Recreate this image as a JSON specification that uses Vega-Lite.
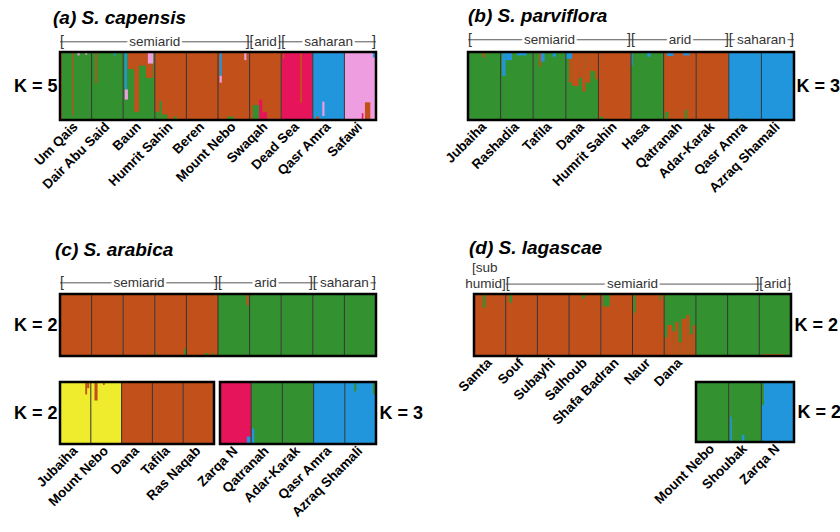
{
"$schema": "https://vega.github.io/schema/vega-lite/v6.json",
"background": "white",
"padding": {"left": 13, "top": 6, "right": 2, "bottom": 2},
"config": {
  "view": {"stroke": null},
  "font": "Liberation Sans",
  "axis": {"domain": false, "ticks": false, "grid": false, "labelColor": "black", "titleColor": "black", "labelFont": "Liberation Sans", "titleFont": "Liberation Sans"},
  "axisY": {"labels": false, "titleAngle": 0, "titleBaseline": "middle", "titleFontSize": 18, "titleFontWeight": "bold", "titlePadding": 3},
  "title": {"anchor": "start", "frame": "group", "fontSize": 19, "fontWeight": "bold", "fontStyle": "italic", "color": "black", "font": "Liberation Sans"},
  "text": {"font": "Liberation Sans"}
},
"datasets": {
  "A": [
    {"x0":0,"x1":1,"y0":0,"y1":1,"k":"g"},{"x0":1,"x1":2,"y0":0,"y1":1,"k":"g"},{"x0":2,"x1":3,"y0":0,"y1":1,"k":"g"},
    {"x0":3,"x1":4,"y0":0,"y1":1,"k":"o"},{"x0":4,"x1":5,"y0":0,"y1":1,"k":"o"},{"x0":5,"x1":6,"y0":0,"y1":1,"k":"o"},
    {"x0":6,"x1":7,"y0":0,"y1":1,"k":"o"},{"x0":7,"x1":8,"y0":0,"y1":1,"k":"r"},{"x0":8,"x1":9,"y0":0,"y1":1,"k":"b"},
    {"x0":9,"x1":10,"y0":0,"y1":1,"k":"p"},
    {"x0":0,"x1":0.06,"y0":0,"y1":1,"k":"o"},
    {"x0":0.38,"x1":0.42,"y0":0.07,"y1":1,"k":"o"},
    {"x0":0.55,"x1":0.62,"y0":0.95,"y1":1,"k":"p"},
    {"x0":0.8,"x1":0.86,"y0":0.96,"y1":1,"k":"p"},
    {"x0":1.12,"x1":1.17,"y0":0.54,"y1":1,"k":"o"},
    {"x0":1.7,"x1":1.76,"y0":0.95,"y1":1,"k":"b"},
    {"x0":2.05,"x1":2.12,"y0":0.45,"y1":1,"k":"b"},
    {"x0":2.05,"x1":2.15,"y0":0.3,"y1":0.45,"k":"p"},
    {"x0":2.15,"x1":2.35,"y0":0.75,"y1":1,"k":"o"},
    {"x0":2.35,"x1":2.5,"y0":0.12,"y1":1,"k":"o"},
    {"x0":2.5,"x1":2.72,"y0":0.8,"y1":1,"k":"o"},
    {"x0":2.72,"x1":2.95,"y0":0.62,"y1":1,"k":"o"},
    {"x0":2.78,"x1":2.95,"y0":0.83,"y1":1,"k":"p"},
    {"x0":3.0,"x1":3.15,"y0":0,"y1":0.12,"k":"g"},
    {"x0":3.15,"x1":3.22,"y0":0,"y1":0.28,"k":"g"},
    {"x0":3.22,"x1":3.4,"y0":0,"y1":0.08,"k":"g"},
    {"x0":3.6,"x1":3.7,"y0":0,"y1":0.05,"k":"g"},
    {"x0":5.05,"x1":5.12,"y0":0.65,"y1":1,"k":"b"},
    {"x0":5.05,"x1":5.12,"y0":0.55,"y1":0.65,"k":"p"},
    {"x0":5.83,"x1":5.9,"y0":0.88,"y1":1,"k":"p"},
    {"x0":5.3,"x1":5.5,"y0":0,"y1":0.05,"k":"g"},
    {"x0":6.1,"x1":6.3,"y0":0,"y1":0.22,"k":"g"},
    {"x0":6.3,"x1":6.4,"y0":0,"y1":0.3,"k":"r"},
    {"x0":6.4,"x1":6.55,"y0":0,"y1":0.12,"k":"r"},
    {"x0":7.6,"x1":7.66,"y0":0.25,"y1":1,"k":"o"},
    {"x0":7.05,"x1":7.1,"y0":0.9,"y1":1,"k":"o"},
    {"x0":8.3,"x1":8.37,"y0":0.06,"y1":0.27,"k":"p"},
    {"x0":8.1,"x1":8.2,"y0":0,"y1":0.05,"k":"o"},
    {"x0":9.65,"x1":9.82,"y0":0,"y1":0.26,"k":"o"},
    {"x0":9.55,"x1":9.6,"y0":0,"y1":0.1,"k":"r"},
    {"x0":9.9,"x1":9.97,"y0":0.92,"y1":1,"k":"b"}
  ],
  "B": [
    {"x0":0,"x1":1,"y0":0,"y1":1,"k":"g"},{"x0":1,"x1":2,"y0":0,"y1":1,"k":"g"},{"x0":2,"x1":3,"y0":0,"y1":1,"k":"g"},
    {"x0":3,"x1":4,"y0":0,"y1":1,"k":"g"},{"x0":4,"x1":5,"y0":0,"y1":1,"k":"o"},{"x0":5,"x1":6,"y0":0,"y1":1,"k":"g"},
    {"x0":6,"x1":7,"y0":0,"y1":1,"k":"o"},{"x0":7,"x1":8,"y0":0,"y1":1,"k":"o"},{"x0":8,"x1":9,"y0":0,"y1":1,"k":"b"},
    {"x0":9,"x1":10,"y0":0,"y1":1,"k":"b"},
    {"x0":0.45,"x1":0.52,"y0":0.92,"y1":1,"k":"o"},
    {"x0":1.05,"x1":1.15,"y0":0.65,"y1":1,"k":"b"},
    {"x0":1.15,"x1":1.35,"y0":0.88,"y1":1,"k":"b"},
    {"x0":1.5,"x1":1.8,"y0":0.95,"y1":1,"k":"b"},
    {"x0":2.18,"x1":2.24,"y0":0.78,"y1":1,"k":"o"},
    {"x0":2.24,"x1":2.35,"y0":0.86,"y1":1,"k":"b"},
    {"x0":2.6,"x1":2.7,"y0":0.93,"y1":1,"k":"b"},
    {"x0":3.1,"x1":3.2,"y0":0.55,"y1":0.9,"k":"o"},
    {"x0":3.02,"x1":3.2,"y0":0.9,"y1":1,"k":"b"},
    {"x0":3.2,"x1":3.4,"y0":0.5,"y1":1,"k":"o"},
    {"x0":3.4,"x1":3.5,"y0":0.62,"y1":1,"k":"o"},
    {"x0":3.5,"x1":3.6,"y0":0.42,"y1":1,"k":"o"},
    {"x0":3.6,"x1":3.75,"y0":0.55,"y1":1,"k":"o"},
    {"x0":3.75,"x1":3.9,"y0":0.72,"y1":1,"k":"o"},
    {"x0":3.9,"x1":4.0,"y0":0.6,"y1":1,"k":"o"},
    {"x0":4.05,"x1":4.15,"y0":0,"y1":0.05,"k":"g"},
    {"x0":5.0,"x1":5.05,"y0":0.8,"y1":1,"k":"b"},
    {"x0":5.5,"x1":5.6,"y0":0.93,"y1":1,"k":"b"},
    {"x0":6.05,"x1":6.15,"y0":0,"y1":0.12,"k":"g"},
    {"x0":6.65,"x1":6.72,"y0":0,"y1":0.15,"k":"g"},
    {"x0":6.1,"x1":6.3,"y0":0.94,"y1":1,"k":"b"},
    {"x0":6.6,"x1":6.8,"y0":0.95,"y1":1,"k":"b"},
    {"x0":8.2,"x1":8.3,"y0":0,"y1":0.03,"k":"g"}
  ],
  "C": [
    {"x0":0,"x1":1,"y0":0,"y1":1,"k":"o"},{"x0":1,"x1":2,"y0":0,"y1":1,"k":"o"},{"x0":2,"x1":3,"y0":0,"y1":1,"k":"o"},
    {"x0":3,"x1":4,"y0":0,"y1":1,"k":"o"},{"x0":4,"x1":5,"y0":0,"y1":1,"k":"o"},{"x0":5,"x1":6,"y0":0,"y1":1,"k":"g"},
    {"x0":6,"x1":7,"y0":0,"y1":1,"k":"g"},{"x0":7,"x1":8,"y0":0,"y1":1,"k":"g"},{"x0":8,"x1":9,"y0":0,"y1":1,"k":"g"},
    {"x0":9,"x1":10,"y0":0,"y1":1,"k":"g"},
    {"x0":5.9,"x1":5.97,"y0":0.82,"y1":1,"k":"o"},
    {"x0":3.0,"x1":3.06,"y0":0,"y1":0.05,"k":"g"},
    {"x0":3.93,"x1":4.02,"y0":0,"y1":0.12,"k":"g"},
    {"x0":4.6,"x1":4.7,"y0":0,"y1":0.05,"k":"g"},
    {"x0":4.82,"x1":4.88,"y0":0,"y1":0.05,"k":"g"}
  ],
  "CL": [
    {"x0":0,"x1":1,"y0":0,"y1":1,"k":"y"},{"x0":1,"x1":2,"y0":0,"y1":1,"k":"y"},{"x0":2,"x1":3,"y0":0,"y1":1,"k":"o"},
    {"x0":3,"x1":4,"y0":0,"y1":1,"k":"o"},{"x0":4,"x1":5,"y0":0,"y1":1,"k":"o"},
    {"x0":0.82,"x1":0.88,"y0":0.8,"y1":1,"k":"o"},
    {"x0":0.88,"x1":0.95,"y0":0.9,"y1":1,"k":"o"},
    {"x0":1.12,"x1":1.22,"y0":0.7,"y1":1,"k":"o"},
    {"x0":1.4,"x1":1.45,"y0":0.95,"y1":1,"k":"o"}
  ],
  "CR": [
    {"x0":0,"x1":1,"y0":0,"y1":1,"k":"r"},{"x0":1,"x1":2,"y0":0,"y1":1,"k":"g"},{"x0":2,"x1":3,"y0":0,"y1":1,"k":"g"},
    {"x0":3,"x1":4,"y0":0,"y1":1,"k":"b"},{"x0":4,"x1":5,"y0":0,"y1":1,"k":"b"},
    {"x0":0.86,"x1":0.98,"y0":0,"y1":0.12,"k":"b"},
    {"x0":1.02,"x1":1.1,"y0":0,"y1":0.25,"k":"b"},
    {"x0":4.3,"x1":4.37,"y0":0.85,"y1":1,"k":"g"},
    {"x0":4.9,"x1":4.97,"y0":0.8,"y1":1,"k":"g"}
  ],
  "D": [
    {"x0":0,"x1":1,"y0":0,"y1":1,"k":"o"},{"x0":1,"x1":2,"y0":0,"y1":1,"k":"o"},{"x0":2,"x1":3,"y0":0,"y1":1,"k":"o"},
    {"x0":3,"x1":4,"y0":0,"y1":1,"k":"o"},{"x0":4,"x1":5,"y0":0,"y1":1,"k":"o"},{"x0":5,"x1":6,"y0":0,"y1":1,"k":"o"},
    {"x0":6,"x1":7,"y0":0,"y1":1,"k":"g"},{"x0":7,"x1":8,"y0":0,"y1":1,"k":"g"},{"x0":8,"x1":9,"y0":0,"y1":1,"k":"g"},
    {"x0":9,"x1":10,"y0":0,"y1":1,"k":"g"},
    {"x0":0.28,"x1":0.36,"y0":0.78,"y1":1,"k":"g"},
    {"x0":1.12,"x1":1.2,"y0":0.86,"y1":1,"k":"g"},
    {"x0":3.4,"x1":3.5,"y0":0.93,"y1":1,"k":"g"},
    {"x0":4.07,"x1":4.28,"y0":0.8,"y1":1,"k":"g"},
    {"x0":5.03,"x1":5.1,"y0":0.7,"y1":1,"k":"g"},
    {"x0":5.85,"x1":5.9,"y0":0.9,"y1":1,"k":"g"},
    {"x0":6.0,"x1":6.1,"y0":0,"y1":0.3,"k":"o"},
    {"x0":6.1,"x1":6.25,"y0":0,"y1":0.5,"k":"o"},
    {"x0":6.25,"x1":6.35,"y0":0,"y1":0.4,"k":"o"},
    {"x0":6.35,"x1":6.45,"y0":0,"y1":0.55,"k":"o"},
    {"x0":6.45,"x1":6.55,"y0":0,"y1":0.22,"k":"o"},
    {"x0":6.55,"x1":6.7,"y0":0,"y1":0.6,"k":"o"},
    {"x0":6.7,"x1":6.8,"y0":0,"y1":0.66,"k":"o"},
    {"x0":6.8,"x1":6.9,"y0":0,"y1":0.35,"k":"o"},
    {"x0":6.9,"x1":7.0,"y0":0,"y1":0.5,"k":"o"},
    {"x0":9.1,"x1":9.8,"y0":0,"y1":0.03,"k":"o"}
  ],
  "DB": [
    {"x0":0,"x1":1,"y0":0,"y1":1,"k":"g"},{"x0":1,"x1":2,"y0":0,"y1":1,"k":"g"},{"x0":2,"x1":3,"y0":0,"y1":1,"k":"b"},
    {"x0":1.05,"x1":1.1,"y0":0,"y1":0.42,"k":"b"},
    {"x0":1.4,"x1":1.48,"y0":0,"y1":0.12,"k":"b"},
    {"x0":2.0,"x1":2.08,"y0":0.62,"y1":1,"k":"g"}
  ],
  "LA": [{"i":0,"n":"Um Qais"},{"i":1,"n":"Dair Abu Said"},{"i":2,"n":"Baun"},{"i":3,"n":"Humrit Sahin"},{"i":4,"n":"Beren"},{"i":5,"n":"Mount Nebo"},{"i":6,"n":"Swaqah"},{"i":7,"n":"Dead Sea"},{"i":8,"n":"Qasr Amra"},{"i":9,"n":"Safawi"}],
  "LB": [{"i":0,"n":"Jubaiha"},{"i":1,"n":"Rashadia"},{"i":2,"n":"Tafila"},{"i":3,"n":"Dana"},{"i":4,"n":"Humrit Sahin"},{"i":5,"n":"Hasa"},{"i":6,"n":"Qatranah"},{"i":7,"n":"Adar-Karak"},{"i":8,"n":"Qasr Amra"},{"i":9,"n":"Azraq Shamali"}],
  "LCL": [{"i":0,"n":"Jubaiha"},{"i":1,"n":"Mount Nebo"},{"i":2,"n":"Dana"},{"i":3,"n":"Tafila"},{"i":4,"n":"Ras Naqab"}],
  "LCR": [{"i":0,"n":"Zarqa N"},{"i":1,"n":"Qatranah"},{"i":2,"n":"Adar-Karak"},{"i":3,"n":"Qasr Amra"},{"i":4,"n":"Azraq Shamali"}],
  "LD": [{"i":0,"n":"Samta"},{"i":1,"n":"Souf"},{"i":2,"n":"Subayhi"},{"i":3,"n":"Salhoub"},{"i":4,"n":"Shafa Badran"},{"i":5,"n":"Naur"},{"i":6,"n":"Dana"}],
  "LDB": [{"i":0,"n":"Mount Nebo"},{"i":1,"n":"Shoubak"},{"i":2,"n":"Zarqa N"}],
  "RA": [{"n":"semiarid","f":0,"t":6},{"n":"arid","f":6,"t":7},{"n":"saharan","f":7,"t":10}],
  "RB": [{"n":"semiarid","f":0,"t":5},{"n":"arid","f":5,"t":8},{"n":"saharan","f":8,"t":10}],
  "RD": [{"n":"semiarid","f":1,"t":9},{"n":"arid","f":9,"t":10}],
  "D10": [{"d":1},{"d":2},{"d":3},{"d":4},{"d":5},{"d":6},{"d":7},{"d":8},{"d":9}],
  "D5": [{"d":1},{"d":2},{"d":3},{"d":4}],
  "D3": [{"d":1},{"d":2}],
  "ONE": [{}]
},
"bounds": "flush",
"spacing": 242,
"vconcat": [
 {"hconcat": [
  {"width": 316, "height": 68,
   "title": {"text": "(a)  S. capensis", "dx": -7, "offset": 7},
   "layer": [
    {"data": {"name": "A"}, "mark": "rect", "encoding": {
      "x": {"field": "x0", "type": "quantitative", "scale": {"domain": [0, 10], "nice": false, "zero": false}, "axis": null},
      "x2": {"field": "x1"},
      "y": {"field": "y0", "type": "quantitative", "scale": {"domain": [0, 1], "nice": false}, "axis": {"title": "K = 5", "orient": "left", "titleAlign": "right"}},
      "y2": {"field": "y1"},
      "color": {"field": "k", "type": "nominal", "legend": null, "scale": {"domain": ["g","o","r","b","p","y"], "range": ["#33922f","#c2501a","#e6145a","#2196dc","#ee9ee0","#eeec2c"]}}}},
    {"data": {"name": "D10"}, "mark": {"type": "rule", "color": "#333", "strokeWidth": 1}, "encoding": {"x": {"field": "d", "type": "quantitative"}}},
    {"data": {"name": "ONE"}, "mark": {"type": "rect", "filled": false, "stroke": "black", "strokeWidth": 2.5}, "encoding": {"x": {"datum": 0}, "x2": {"datum": 10}, "y": {"datum": 0}, "y2": {"datum": 1}}},
    {"data": {"name": "LA"}, "transform": [{"calculate": "datum.i+0.5", "as": "c"}], "mark": {"type": "text", "angle": 315, "align": "right", "baseline": "middle", "fontSize": 13.5, "fontWeight": "bold", "color": "black"}, "encoding": {"x": {"field": "c", "type": "quantitative"}, "y": {"datum": -0.07}, "text": {"field": "n"}}},
    {"data": {"name": "RA"}, "mark": {"type": "rule", "color": "#555", "strokeWidth": 1}, "encoding": {"x": {"field": "f", "type": "quantitative"}, "x2": {"field": "t"}, "y": {"datum": 1.15}}},
    {"data": {"name": "RA"}, "mark": {"type": "text", "text": "[", "align": "left", "baseline": "middle", "fontSize": 14, "color": "#333"}, "encoding": {"x": {"field": "f", "type": "quantitative"}, "y": {"datum": 1.15}}},
    {"data": {"name": "RA"}, "mark": {"type": "text", "text": "]", "align": "right", "baseline": "middle", "fontSize": 14, "color": "#333"}, "encoding": {"x": {"field": "t", "type": "quantitative"}, "y": {"datum": 1.15}}},
    {"data": {"name": "RA"}, "transform": [{"calculate": "(datum.f+datum.t)/2", "as": "m"}], "mark": {"type": "text", "baseline": "middle", "fontSize": 13.5, "color": "white", "stroke": "white", "strokeWidth": 5}, "encoding": {"x": {"field": "m", "type": "quantitative"}, "y": {"datum": 1.15}, "text": {"field": "n"}}},
    {"data": {"name": "RA"}, "transform": [{"calculate": "(datum.f+datum.t)/2", "as": "m"}], "mark": {"type": "text", "baseline": "middle", "fontSize": 13.5, "color": "#333"}, "encoding": {"x": {"field": "m", "type": "quantitative"}, "y": {"datum": 1.15}, "text": {"field": "n"}}}
   ]},
  {"width": 326, "height": 68,
   "title": {"text": "(b)  S. parviflora", "dx": 0, "offset": 7},
   "layer": [
    {"data": {"name": "B"}, "mark": "rect", "encoding": {
      "x": {"field": "x0", "type": "quantitative", "scale": {"domain": [0, 10], "nice": false, "zero": false}, "axis": null},
      "x2": {"field": "x1"},
      "y": {"field": "y0", "type": "quantitative", "scale": {"domain": [0, 1], "nice": false}, "axis": {"title": "K = 3", "orient": "right", "titleAlign": "left", "titlePadding": 2}},
      "y2": {"field": "y1"},
      "color": {"field": "k", "type": "nominal", "legend": null, "scale": {"domain": ["g","o","r","b","p","y"], "range": ["#33922f","#c2501a","#e6145a","#2196dc","#ee9ee0","#eeec2c"]}}}},
    {"data": {"name": "D10"}, "mark": {"type": "rule", "color": "#333", "strokeWidth": 1}, "encoding": {"x": {"field": "d", "type": "quantitative"}}},
    {"data": {"name": "ONE"}, "mark": {"type": "rect", "filled": false, "stroke": "black", "strokeWidth": 2.5}, "encoding": {"x": {"datum": 0}, "x2": {"datum": 10}, "y": {"datum": 0}, "y2": {"datum": 1}}},
    {"data": {"name": "LB"}, "transform": [{"calculate": "datum.i+0.5", "as": "c"}], "mark": {"type": "text", "angle": 315, "align": "right", "baseline": "middle", "fontSize": 13.5, "fontWeight": "bold", "color": "black"}, "encoding": {"x": {"field": "c", "type": "quantitative"}, "y": {"datum": -0.07}, "text": {"field": "n"}}},
    {"data": {"name": "RB"}, "mark": {"type": "rule", "color": "#555", "strokeWidth": 1}, "encoding": {"x": {"field": "f", "type": "quantitative"}, "x2": {"field": "t"}, "y": {"datum": 1.18}}},
    {"data": {"name": "RB"}, "mark": {"type": "text", "text": "[", "align": "left", "baseline": "middle", "fontSize": 14, "color": "#333"}, "encoding": {"x": {"field": "f", "type": "quantitative"}, "y": {"datum": 1.18}}},
    {"data": {"name": "RB"}, "mark": {"type": "text", "text": "]", "align": "right", "baseline": "middle", "fontSize": 14, "color": "#333"}, "encoding": {"x": {"field": "t", "type": "quantitative"}, "y": {"datum": 1.18}}},
    {"data": {"name": "RB"}, "transform": [{"calculate": "(datum.f+datum.t)/2", "as": "m"}], "mark": {"type": "text", "baseline": "middle", "fontSize": 13.5, "color": "white", "stroke": "white", "strokeWidth": 5}, "encoding": {"x": {"field": "m", "type": "quantitative"}, "y": {"datum": 1.18}, "text": {"field": "n"}}},
    {"data": {"name": "RB"}, "transform": [{"calculate": "(datum.f+datum.t)/2", "as": "m"}], "mark": {"type": "text", "baseline": "middle", "fontSize": 13.5, "color": "#333"}, "encoding": {"x": {"field": "m", "type": "quantitative"}, "y": {"datum": 1.18}, "text": {"field": "n"}}}
   ]}
 ], "spacing": 92, "bounds": "flush"},
 {"hconcat": [
  {"vconcat": [
    {"width": 316, "height": 62,
     "title": {"text": "(c)  S. arabica", "dx": -5, "offset": 16},
     "layer": [
      {"data": {"name": "C"}, "mark": "rect", "encoding": {
        "x": {"field": "x0", "type": "quantitative", "scale": {"domain": [0, 10], "nice": false, "zero": false}, "axis": null},
        "x2": {"field": "x1"},
        "y": {"field": "y0", "type": "quantitative", "scale": {"domain": [0, 1], "nice": false}, "axis": {"title": "K = 2", "orient": "left", "titleAlign": "right"}},
        "y2": {"field": "y1"},
        "color": {"field": "k", "type": "nominal", "legend": null, "scale": {"domain": ["g","o","r","b","p","y"], "range": ["#33922f","#c2501a","#e6145a","#2196dc","#ee9ee0","#eeec2c"]}}}},
      {"data": {"name": "D10"}, "mark": {"type": "rule", "color": "#333", "strokeWidth": 1}, "encoding": {"x": {"field": "d", "type": "quantitative"}}},
      {"data": {"name": "ONE"}, "mark": {"type": "rect", "filled": false, "stroke": "black", "strokeWidth": 2.5}, "encoding": {"x": {"datum": 0}, "x2": {"datum": 10}, "y": {"datum": 0}, "y2": {"datum": 1}}},
      {"data": {"name": "RB"}, "mark": {"type": "rule", "color": "#555", "strokeWidth": 1}, "encoding": {"x": {"field": "f", "type": "quantitative"}, "x2": {"field": "t"}, "y": {"datum": 1.18}}},
      {"data": {"name": "RB"}, "mark": {"type": "text", "text": "[", "align": "left", "baseline": "middle", "fontSize": 14, "color": "#333"}, "encoding": {"x": {"field": "f", "type": "quantitative"}, "y": {"datum": 1.18}}},
      {"data": {"name": "RB"}, "mark": {"type": "text", "text": "]", "align": "right", "baseline": "middle", "fontSize": 14, "color": "#333"}, "encoding": {"x": {"field": "t", "type": "quantitative"}, "y": {"datum": 1.18}}},
      {"data": {"name": "RB"}, "transform": [{"calculate": "(datum.f+datum.t)/2", "as": "m"}], "mark": {"type": "text", "baseline": "middle", "fontSize": 13.5, "color": "white", "stroke": "white", "strokeWidth": 5}, "encoding": {"x": {"field": "m", "type": "quantitative"}, "y": {"datum": 1.18}, "text": {"field": "n"}}},
      {"data": {"name": "RB"}, "transform": [{"calculate": "(datum.f+datum.t)/2", "as": "m"}], "mark": {"type": "text", "baseline": "middle", "fontSize": 13.5, "color": "#333"}, "encoding": {"x": {"field": "m", "type": "quantitative"}, "y": {"datum": 1.18}, "text": {"field": "n"}}}
     ]},
    {"hconcat": [
      {"width": 154, "height": 62,
       "layer": [
        {"data": {"name": "CL"}, "mark": "rect", "encoding": {
          "x": {"field": "x0", "type": "quantitative", "scale": {"domain": [0, 5], "nice": false, "zero": false}, "axis": null},
          "x2": {"field": "x1"},
          "y": {"field": "y0", "type": "quantitative", "scale": {"domain": [0, 1], "nice": false}, "axis": {"title": "K = 2", "orient": "left", "titleAlign": "right"}},
          "y2": {"field": "y1"},
          "color": {"field": "k", "type": "nominal", "legend": null, "scale": {"domain": ["g","o","r","b","p","y"], "range": ["#33922f","#c2501a","#e6145a","#2196dc","#ee9ee0","#eeec2c"]}}}},
        {"data": {"name": "D5"}, "mark": {"type": "rule", "color": "#333", "strokeWidth": 1}, "encoding": {"x": {"field": "d", "type": "quantitative"}}},
        {"data": {"name": "ONE"}, "mark": {"type": "rect", "filled": false, "stroke": "black", "strokeWidth": 2.5}, "encoding": {"x": {"datum": 0}, "x2": {"datum": 5}, "y": {"datum": 0}, "y2": {"datum": 1}}},
        {"data": {"name": "LCL"}, "transform": [{"calculate": "datum.i+0.5", "as": "c"}], "mark": {"type": "text", "angle": 315, "align": "right", "baseline": "middle", "fontSize": 13.5, "fontWeight": "bold", "color": "black"}, "encoding": {"x": {"field": "c", "type": "quantitative"}, "y": {"datum": -0.08}, "text": {"field": "n"}}}
       ]},
      {"width": 156, "height": 62,
       "layer": [
        {"data": {"name": "CR"}, "mark": "rect", "encoding": {
          "x": {"field": "x0", "type": "quantitative", "scale": {"domain": [0, 5], "nice": false, "zero": false}, "axis": null},
          "x2": {"field": "x1"},
          "y": {"field": "y0", "type": "quantitative", "scale": {"domain": [0, 1], "nice": false}, "axis": {"title": "K = 3", "orient": "right", "titleAlign": "left"}},
          "y2": {"field": "y1"},
          "color": {"field": "k", "type": "nominal", "legend": null, "scale": {"domain": ["g","o","r","b","p","y"], "range": ["#33922f","#c2501a","#e6145a","#2196dc","#ee9ee0","#eeec2c"]}}}},
        {"data": {"name": "D5"}, "mark": {"type": "rule", "color": "#333", "strokeWidth": 1}, "encoding": {"x": {"field": "d", "type": "quantitative"}}},
        {"data": {"name": "ONE"}, "mark": {"type": "rect", "filled": false, "stroke": "black", "strokeWidth": 2.5}, "encoding": {"x": {"datum": 0}, "x2": {"datum": 5}, "y": {"datum": 0}, "y2": {"datum": 1}}},
        {"data": {"name": "LCR"}, "transform": [{"calculate": "datum.i+0.5", "as": "c"}], "mark": {"type": "text", "angle": 315, "align": "right", "baseline": "middle", "fontSize": 13.5, "fontWeight": "bold", "color": "black"}, "encoding": {"x": {"field": "c", "type": "quantitative"}, "y": {"datum": -0.08}, "text": {"field": "n"}}}
       ]}
    ], "spacing": 6, "bounds": "flush"}
  ], "spacing": 26, "bounds": "flush"},
  {"vconcat": [
    {"width": 317, "height": 62,
     "title": {"text": "(d)  S. lagascae", "dx": -5, "offset": 3},
     "layer": [
      {"data": {"name": "D"}, "mark": "rect", "encoding": {
        "x": {"field": "x0", "type": "quantitative", "scale": {"domain": [0, 10], "nice": false, "zero": false}, "axis": null},
        "x2": {"field": "x1"},
        "y": {"field": "y0", "type": "quantitative", "scale": {"domain": [0, 1], "nice": false}, "axis": {"title": "K = 2", "orient": "right", "titleAlign": "left"}},
        "y2": {"field": "y1"},
        "color": {"field": "k", "type": "nominal", "legend": null, "scale": {"domain": ["g","o","r","b","p","y"], "range": ["#33922f","#c2501a","#e6145a","#2196dc","#ee9ee0","#eeec2c"]}}}},
      {"data": {"name": "D10"}, "mark": {"type": "rule", "color": "#333", "strokeWidth": 1}, "encoding": {"x": {"field": "d", "type": "quantitative"}}},
      {"data": {"name": "ONE"}, "mark": {"type": "rect", "filled": false, "stroke": "black", "strokeWidth": 2.5}, "encoding": {"x": {"datum": 0}, "x2": {"datum": 10}, "y": {"datum": 0}, "y2": {"datum": 1}}},
      {"data": {"name": "LD"}, "transform": [{"calculate": "datum.i+0.5", "as": "c"}], "mark": {"type": "text", "angle": 315, "align": "right", "baseline": "middle", "fontSize": 13.5, "fontWeight": "bold", "color": "black"}, "encoding": {"x": {"field": "c", "type": "quantitative"}, "y": {"datum": -0.08}, "text": {"field": "n"}}},
      {"data": {"name": "ONE"}, "mark": {"type": "text", "text": "[sub", "align": "left", "baseline": "middle", "fontSize": 13.5, "color": "#333", "dx": -2}, "encoding": {"x": {"datum": 0}, "y": {"datum": 1.42}}},
      {"data": {"name": "ONE"}, "mark": {"type": "text", "text": "humid]", "align": "right", "baseline": "middle", "fontSize": 13.5, "color": "#333"}, "encoding": {"x": {"datum": 1}, "y": {"datum": 1.16}}},
      {"data": {"name": "RD"}, "mark": {"type": "rule", "color": "#555", "strokeWidth": 1}, "encoding": {"x": {"field": "f", "type": "quantitative"}, "x2": {"field": "t"}, "y": {"datum": 1.16}}},
      {"data": {"name": "RD"}, "mark": {"type": "text", "text": "[", "align": "left", "baseline": "middle", "fontSize": 14, "color": "#333"}, "encoding": {"x": {"field": "f", "type": "quantitative"}, "y": {"datum": 1.16}}},
      {"data": {"name": "RD"}, "mark": {"type": "text", "text": "]", "align": "right", "baseline": "middle", "fontSize": 14, "color": "#333"}, "encoding": {"x": {"field": "t", "type": "quantitative"}, "y": {"datum": 1.16}}},
      {"data": {"name": "RD"}, "transform": [{"calculate": "(datum.f+datum.t)/2", "as": "m"}], "mark": {"type": "text", "baseline": "middle", "fontSize": 13.5, "color": "white", "stroke": "white", "strokeWidth": 5}, "encoding": {"x": {"field": "m", "type": "quantitative"}, "y": {"datum": 1.16}, "text": {"field": "n"}}},
      {"data": {"name": "RD"}, "transform": [{"calculate": "(datum.f+datum.t)/2", "as": "m"}], "mark": {"type": "text", "baseline": "middle", "fontSize": 13.5, "color": "#333"}, "encoding": {"x": {"field": "m", "type": "quantitative"}, "y": {"datum": 1.16}, "text": {"field": "n"}}}
     ]},
    {"hconcat": [
      {"width": 219, "height": 60, "data": {"name": "ONE"}, "mark": {"type": "point", "opacity": 0}, "encoding": {}},
      {"width": 98, "height": 60,
       "layer": [
        {"data": {"name": "DB"}, "mark": "rect", "encoding": {
          "x": {"field": "x0", "type": "quantitative", "scale": {"domain": [0, 3], "nice": false, "zero": false}, "axis": null},
          "x2": {"field": "x1"},
          "y": {"field": "y0", "type": "quantitative", "scale": {"domain": [0, 1], "nice": false}, "axis": {"title": "K = 2", "orient": "right", "titleAlign": "left"}},
          "y2": {"field": "y1"},
          "color": {"field": "k", "type": "nominal", "legend": null, "scale": {"domain": ["g","o","r","b","p","y"], "range": ["#33922f","#c2501a","#e6145a","#2196dc","#ee9ee0","#eeec2c"]}}}},
        {"data": {"name": "D3"}, "mark": {"type": "rule", "color": "#333", "strokeWidth": 1}, "encoding": {"x": {"field": "d", "type": "quantitative"}}},
        {"data": {"name": "ONE"}, "mark": {"type": "rect", "filled": false, "stroke": "black", "strokeWidth": 2.5}, "encoding": {"x": {"datum": 0}, "x2": {"datum": 3}, "y": {"datum": 0}, "y2": {"datum": 1}}},
        {"data": {"name": "LDB"}, "transform": [{"calculate": "datum.i+0.5", "as": "c"}], "mark": {"type": "text", "angle": 315, "align": "right", "baseline": "middle", "fontSize": 13.5, "fontWeight": "bold", "color": "black"}, "encoding": {"x": {"field": "c", "type": "quantitative"}, "y": {"datum": -0.08}, "text": {"field": "n"}}}
       ]}
    ], "spacing": 3, "bounds": "flush"}
  ], "spacing": 26, "bounds": "flush"}
 ], "spacing": 414, "bounds": "flush"}
]
}
